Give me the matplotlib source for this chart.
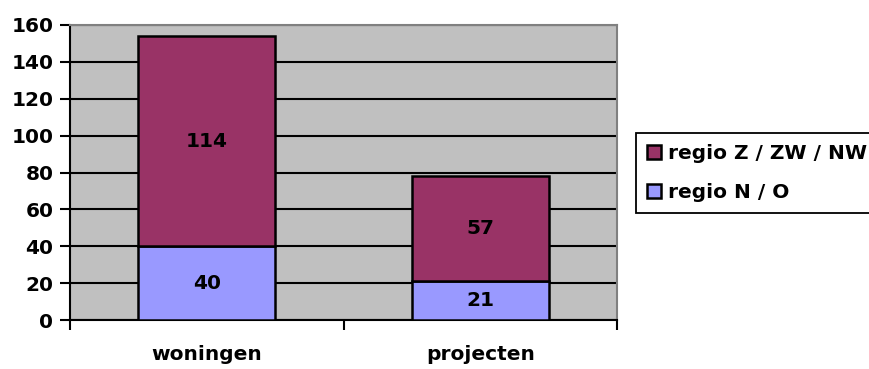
import matplotlib.pyplot as plt
import numpy as np

plt.rcParams['font.family'] = ['DejaVu Sans']
plt.rcParams['font.weight'] = 'bold'

categories = ['woningen', 'projecten']
regio_no = [40, 21]
regio_zw = [114, 57]
labels = ['regio N / O', 'regio Z / ZW / NW']

fs = 14.5

fig = plt.figure(figsize=(8.69, 3.69), dpi=100)
ax = fig.add_axes([70/869, 1-320/369, 547/869, 295/369])
ax.set_facecolor('#C0C0C0')

x = np.arange(len(categories))
b1 = ax.bar(x, regio_no, 0.5, color='#9999FF', edgecolor='black', linewidth=1.8,
            label=labels[0], zorder=3)
b2 = ax.bar(x, regio_zw, 0.5, bottom=regio_no, color='#993366', edgecolor='black',
            linewidth=1.8, label=labels[1], zorder=3)

# waarden midden in de segmenten
for i in range(len(categories)):
    ax.text(x[i], regio_no[i]/2, str(regio_no[i]), ha='center', va='center',
            fontsize=fs, fontweight='bold', zorder=4)
    ax.text(x[i], regio_no[i] + regio_zw[i]/2, str(regio_zw[i]), ha='center',
            va='center', fontsize=fs, fontweight='bold', zorder=4)

ax.set_xlim(-0.5, 1.5)
ax.set_ylim(0, 160)
ax.set_yticks(range(0, 161, 20))
ax.yaxis.grid(True, color='black', linewidth=1.5, zorder=1)
ax.set_axisbelow(True)

ax.set_xticks([-0.5, 0.5, 1.5])
ax.set_xticklabels([])
ax.set_xticks(x, minor=True)
ax.set_xticklabels(categories, minor=True, fontsize=fs, fontweight='bold')
ax.tick_params(axis='x', which='major', direction='out', length=7, width=1.5)
ax.tick_params(axis='x', which='minor', length=0, pad=18)
ax.tick_params(axis='y', direction='out', length=7, width=1.5, labelsize=fs, pad=5)

ax.spines['left'].set_linewidth(1.5)
ax.spines['bottom'].set_linewidth(1.5)
ax.spines['top'].set_color('#808080')
ax.spines['right'].set_color('#808080')
ax.spines['top'].set_linewidth(1.5)
ax.spines['right'].set_linewidth(1.5)

leg = fig.legend([b2, b1], [labels[1], labels[0]], loc='upper left',
                 bbox_to_anchor=(636/869, 1-133/369), frameon=True, fancybox=False,
                 framealpha=1, edgecolor='black', fontsize=fs,
                 handlelength=0.7, handleheight=0.7, handletextpad=0.35,
                 borderpad=0.55, labelspacing=1.0, borderaxespad=0)
leg.get_frame().set_linewidth(1.3)
for t in leg.get_texts():
    t.set_fontweight('bold')

fig.savefig('out.png', dpi=100)
